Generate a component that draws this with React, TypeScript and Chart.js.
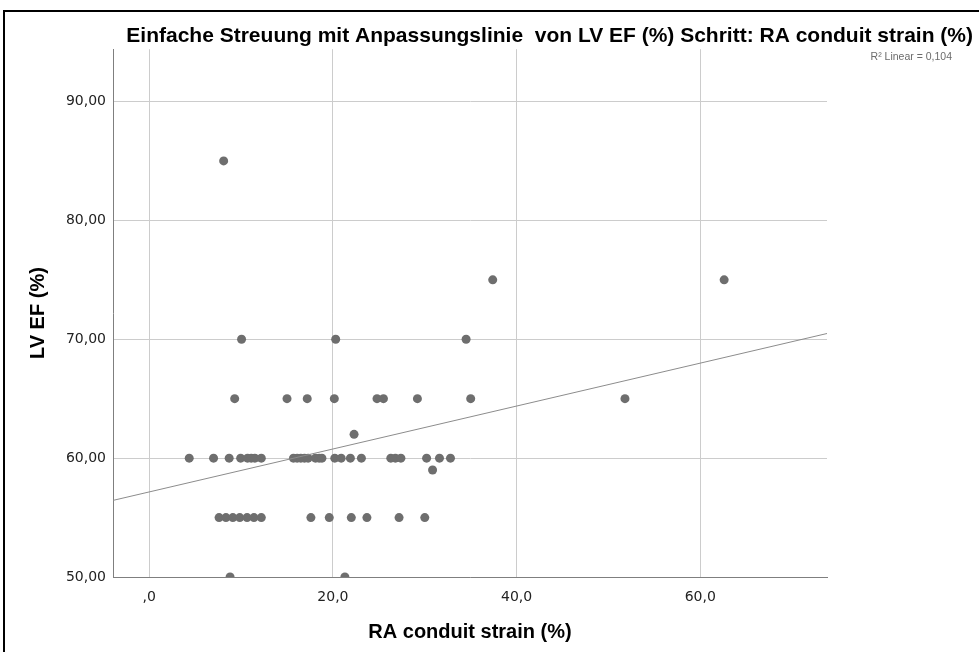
import React, { useEffect, useRef } from "react";
import { Chart, registerables } from "chart.js";

Chart.register(...registerables);

const TITLE = "Einfache Streuung mit Anpassungslinie  von LV EF (%) Schritt: RA conduit strain (%)";
const X_TITLE = "RA conduit strain (%)";
const Y_TITLE = "LV EF (%)";
const FIT_LABEL = "R² Linear = 0,104";

const X_MIN = -3.95;
const X_MAX = 73.8;
const Y_MIN = 50;
const Y_MAX = 94.4;
const X_TICKS = [0, 20, 40, 60];
const Y_TICKS = [50, 60, 70, 80, 90];

// RA conduit strain (%) – x values
const raStrain = [
  4.35, 7.0, 8.7, 9.95, 10.7, 11.1, 11.5, 12.2,
  15.7, 16.1, 16.5, 16.9, 17.3, 18.1, 18.5, 18.8, 20.2, 20.9, 21.9, 23.1,
  26.3, 26.8, 27.4, 30.2, 31.6, 32.8,
  30.85,
  22.3,
  7.6, 8.35, 9.1, 9.85, 10.65, 11.4, 12.2, 17.6, 19.6, 22.0, 23.7, 27.2, 30.0,
  9.3, 15.0, 17.2, 20.15, 24.8, 25.5, 29.2, 35.0, 51.8,
  10.05, 20.3, 34.5,
  37.4, 62.6,
  8.1,
  8.8, 21.3,
];

// LV EF (%) – y values
const lvEf = [
  60, 60, 60, 60, 60, 60, 60, 60,
  60, 60, 60, 60, 60, 60, 60, 60, 60, 60, 60, 60,
  60, 60, 60, 60, 60, 60,
  59,
  62,
  55, 55, 55, 55, 55, 55, 55, 55, 55, 55, 55, 55, 55,
  65, 65, 65, 65, 65, 65, 65, 65, 65,
  70, 70, 70,
  75, 75,
  85,
  50, 50,
];

function linearFit(xs: number[], ys: number[]) {
  const n = xs.length;
  const mx = xs.reduce((a, b) => a + b, 0) / n;
  const my = ys.reduce((a, b) => a + b, 0) / n;
  let sxy = 0;
  let sxx = 0;
  for (let i = 0; i < n; i++) {
    sxy += (xs[i] - mx) * (ys[i] - my);
    sxx += (xs[i] - mx) * (xs[i] - mx);
  }
  const slope = sxy / sxx;
  return { slope, intercept: my - slope * mx };
}

const TICK_FONT = { family: "'DejaVu Sans', sans-serif", size: 14 };
const BOLD_FAMILY = "'Liberation Sans', Arial, sans-serif";

export default function App() {
  const canvasRef = useRef<HTMLCanvasElement | null>(null);

  useEffect(() => {
    const canvas = canvasRef.current;
    if (!canvas) return;
    const fit = linearFit(raStrain, lvEf);
    const points = raStrain.map((x, i) => ({ x, y: lvEf[i] }));
    const fitLine = [X_MIN, X_MAX].map((x) => ({ x, y: fit.intercept + fit.slope * x }));

    const fitLabelPlugin = {
      id: "fitLabel",
      afterDraw(chart: any) {
        const { ctx, chartArea } = chart;
        ctx.save();
        ctx.font = "10.5px 'Liberation Sans', sans-serif";
        ctx.fillStyle = "#6b6b6b";
        ctx.textAlign = "right";
        ctx.textBaseline = "middle";
        ctx.fillText(FIT_LABEL, chart.width - 27, chartArea.top + 8);
        ctx.restore();
      },
    };

    const chart = new Chart(canvas, {
      type: "scatter",
      data: {
        datasets: [
          {
            type: "line",
            label: "Linear",
            data: fitLine,
            borderColor: "#8c8c8c",
            borderWidth: 1,
            pointRadius: 0,
            fill: false,
            order: 0,
          } as any,
          {
            label: "LV EF",
            data: points,
            backgroundColor: "#6e6e6e",
            borderWidth: 0,
            pointRadius: 4.5,
            pointHoverRadius: 4.5,
            clip: 0,
            order: 1,
          },
        ],
      },
      options: {
        responsive: false,
        animation: false,
        devicePixelRatio: 1,
        layout: { padding: { left: 0, right: 6, top: 0, bottom: 0 } },
        plugins: {
          legend: { display: false },
          tooltip: { enabled: false },
          title: {
            display: true,
            text: TITLE,
            align: "end",
            color: "#000",
            font: { family: BOLD_FAMILY, weight: "bold", size: 21 },
            padding: { top: 24, bottom: 0 },
          },
        },
        scales: {
          x: {
            type: "linear",
            min: X_MIN,
            max: X_MAX,
            afterBuildTicks: (s: any) => {
              s.ticks = X_TICKS.map((value) => ({ value }));
            },
            afterFit: (s: any) => {
              s.height = 75;
            },
            grid: { color: "#cccccc", lineWidth: 1, drawTicks: false },
            border: { color: "#7f7f7f", width: 1 },
            ticks: {
              color: "#222",
              font: TICK_FONT,
              padding: 12,
              maxRotation: 0,
              callback: (v: any) => (Number(v) === 0 ? ",0" : Number(v).toFixed(1).replace(".", ",")),
            },
            title: {
              display: true,
              text: X_TITLE,
              color: "#000",
              font: { family: BOLD_FAMILY, weight: "bold", size: 20 },
              padding: { top: 0, bottom: 8 },
            },
          },
          y: {
            type: "linear",
            min: Y_MIN,
            max: Y_MAX,
            afterBuildTicks: (s: any) => {
              s.ticks = Y_TICKS.map((value) => ({ value }));
            },
            afterFit: (s: any) => {
              s.width = 113;
            },
            grid: { color: "#cccccc", lineWidth: 1, drawTicks: false },
            border: { color: "#7f7f7f", width: 1 },
            ticks: {
              color: "#222",
              font: TICK_FONT,
              padding: 7,
              callback: (v: any) => Number(v).toFixed(2).replace(".", ","),
            },
            title: {
              display: true,
              text: Y_TITLE,
              color: "#000",
              font: { family: BOLD_FAMILY, weight: "bold", size: 20 },
              padding: { top: 26, bottom: 0 },
            },
          },
          y2: {
            type: "linear",
            position: "right",
            display: true,
            min: 0,
            max: 1,
            afterFit: (s: any) => {
              s.width = 146;
            },
            grid: { display: false },
            border: { display: false },
            ticks: { display: false },
          },
        },
      },
      plugins: [fitLabelPlugin],
    } as any);

    return () => chart.destroy();
  }, []);

  return (
    <div
      style={{
        position: "fixed",
        left: 0,
        top: 0,
        width: 979,
        height: 652,
        background: "#fff",
        overflow: "hidden",
      }}
    >
      <div
        style={{
          position: "absolute",
          left: 3,
          top: 10,
          width: 1100,
          height: 800,
          border: "2px solid #000",
        }}
      />
      <canvas
        ref={canvasRef}
        width={979}
        height={652}
        style={{ position: "absolute", left: 0, top: 0, width: 979, height: 652 }}
      />
    </div>
  );
}
